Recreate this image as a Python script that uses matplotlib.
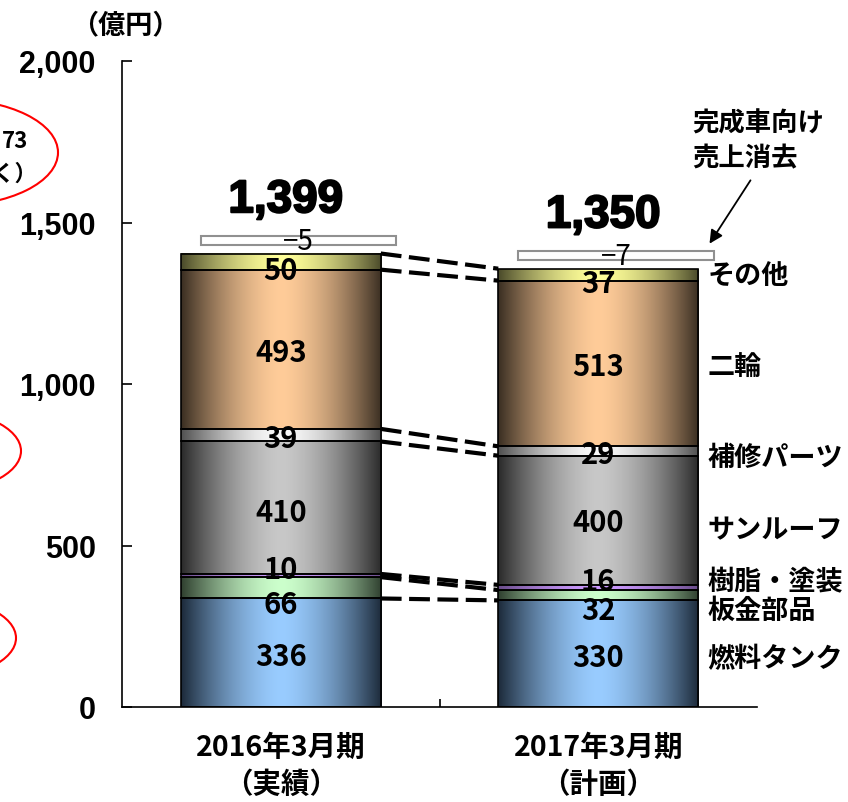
import numpy as np
import matplotlib
matplotlib.use("Agg")
import matplotlib.pyplot as plt
from matplotlib.colors import to_rgb
from matplotlib.patches import Ellipse
import matplotlib.patheffects as pe

plt.rcParams['font.family'] = ['Noto Sans CJK JP', 'DejaVu Sans']

# ---------------- data ----------------
periods = ['2016年3月期\n（実績）', '2017年3月期\n（計画）']
segments = ['燃料タンク', '板金部品', '樹脂・塗装', 'サンルーフ', '補修パーツ', '二輪', 'その他']
values_2016 = [336, 66, 10, 410, 39, 493, 50]
values_2017 = [330, 32, 16, 400, 29, 513, 37]
eliminations = [-5, -7]
totals = [1399, 1350]
yticks = [0, 500, 1000, 1500, 2000]

# ---------------- style / layout ----------------
light_cols = ['#99CCFF', '#CCFFCC', '#CC99FF', '#C8C8C8', '#FAFAFA', '#FFCC99', '#FFFF99']
dark_cols = ['#1C2A3A', '#2F3F2F', '#6A4C8A', '#2A2A2A', '#505050', '#3A2E22', '#4A4A2A']
label_y = [[158, 319, 427, 604, 833, 1099, 1353],
           [155, 300, 390, 573, 783, 1056, 1313]]
right_label_y = [152, 300, 390, 551, 774, 1056, 1334]
bar_w = 0.63

fig = plt.figure(figsize=(8.48, 8.03), dpi=100)
ax = fig.add_axes([122/848, 95/803, (757-122)/848, 646/803])


def grad(light, dark, n=256):
    x = np.linspace(0, 1, n)
    f = 1 - np.abs(2*x - 1)**1.6
    l = np.array(to_rgb(light)); d = np.array(to_rgb(dark))
    return (d + (l - d)*f[:, None])[None, :, :]


all_vals = [values_2016, values_2017]
xs = np.arange(len(periods))
bounds = []
for i, vals in enumerate(all_vals):
    bottoms = np.concatenate([[0], np.cumsum(vals)[:-1]])
    bars = ax.bar(np.full(len(vals), xs[i]), vals, bottom=bottoms, width=bar_w,
                  facecolor='none', edgecolor='black', linewidth=1.2, zorder=3)
    for j, p in enumerate(bars.patches):
        x0, y0, w, h = p.get_x(), p.get_y(), p.get_width(), p.get_height()
        ax.imshow(grad(light_cols[j], dark_cols[j]), extent=[x0, x0+w, y0, y0+h],
                  aspect='auto', interpolation='bilinear', zorder=2)
        ax.text(xs[i], label_y[i][j], f'{vals[j]}', ha='center', va='center',
                fontsize=21, fontweight='bold', color='black', zorder=5)
    top = bottoms[-1] + vals[-1]
    bounds.append(list(np.cumsum(vals)))
    # elimination box
    ex = xs[i] + 0.056
    ax.bar(ex, 28, bottom=top + 26, width=0.616, facecolor='white',
           edgecolor='#909090', linewidth=1.5, zorder=3)
    ax.text(ex, top + 26 + 12, f'−{abs(eliminations[i])}', ha='center', va='center',
            fontsize=20, color='black', zorder=5)
    ax.text(xs[i] + 0.016, top + 165, f'{totals[i]:,}', ha='center', va='center',
            fontsize=33, fontweight='bold', family='Liberation Sans', zorder=5,
            path_effects=[pe.withStroke(linewidth=1.5, foreground='black')])

# connector dashed lines
for b1, b2 in zip(bounds[0], bounds[1]):
    ax.plot([xs[0] + bar_w/2, xs[1] - bar_w/2], [b1, b2], color='black',
            linewidth=3.0, linestyle=(0, (5, 1.8)), zorder=4, solid_capstyle='butt')

# right labels
for name, yv in zip(segments, right_label_y):
    ax.text(1.343, yv, name, ha='left', va='center', fontsize=19.5, fontweight='bold',
            clip_on=False)

ax.set_xlim(-0.5, 1.5)
ax.set_ylim(0, 2000)
for s in ['top', 'right']:
    ax.spines[s].set_visible(False)
for s in ['left', 'bottom']:
    ax.spines[s].set_linewidth(1.2)
ax.set_yticks(yticks)
ax.set_yticklabels([f'{v:,}' for v in yticks], fontsize=22, fontweight='bold',
                   family='Liberation Sans')
ax.tick_params(axis='y', direction='in', length=7.5, width=1.2, pad=19)
ax.set_xticks([0.5])
ax.set_xticklabels([''])
ax.tick_params(axis='x', direction='in', length=6, width=1.2)

for i, p in enumerate(periods):
    ax.annotate(p, xy=(xs[i], 0), xycoords=('data', 'axes fraction'),
                xytext=(0, -58*0.72), textcoords='offset points',
                ha='center', va='center', fontsize=20.5, fontweight='bold',
                linespacing=1.42)

fig.text(125/848, 1 - 25/803, '（億円）', ha='center', va='center', fontsize=19.5,
         fontweight='bold')
fig.text(692/848, 1 - 141.5/803, '完成車向け\n売上消去', ha='left', va='center',
         fontsize=19, fontweight='bold', linespacing=1.35)
ax.annotate('', xy=(708, 803-247), xycoords='figure pixels',
            xytext=(752, 803-179), textcoords='figure pixels',
            arrowprops=dict(arrowstyle='-|>', color='black', lw=1.3, mutation_scale=20))

# cropped red ellipses at the left edge
for cx, cy, w, h in [(-50, 153.5, 216, 107), (-70, 452, 182, 85), (-70, 639, 172, 82)]:
    e = Ellipse((cx/848, 1 - cy/803), w/848, h/803, transform=fig.transFigure,
                fill=False, edgecolor='red', linewidth=1.5, clip_on=False)
    fig.add_artist(e)
fig.text(2/848, 1 - 141/803, '73', ha='left', va='center', fontsize=16,
         fontweight='bold')
fig.text(37/848, 1 - 174/803, '除く）', ha='right', va='center', fontsize=16,
         fontweight='bold')

fig.savefig('out.png', dpi=100)
